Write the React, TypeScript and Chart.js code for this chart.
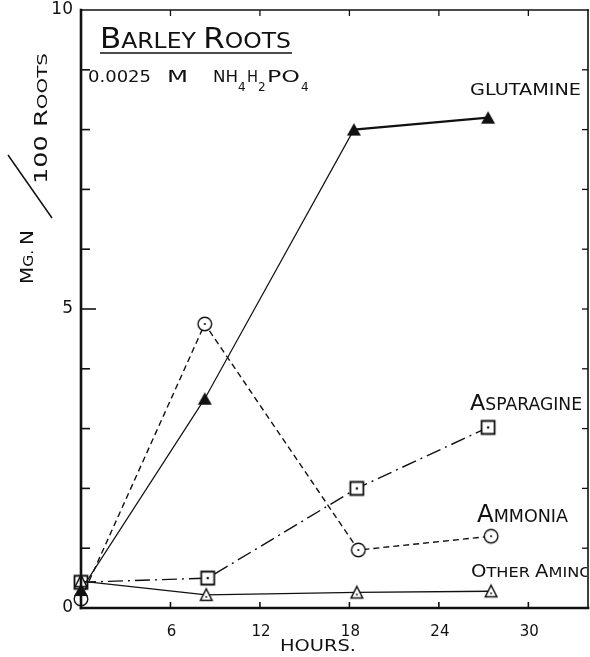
import { useEffect, useRef } from "react";
import { Chart, registerables } from "chart.js";

Chart.register(...registerables);

// Hours after transfer to the ammonium phosphate solution
const hourTicks = [6, 12, 18, 24, 30];
const yLabelTicks = [0, 5, 10];
const yMinorTicks = [1, 2, 3, 4, 5, 6, 7, 8, 9];

// mg N per 100 roots
const glutamineHours = [0, 8.3, 18.3, 27.3];
const glutamine = [0.3, 3.5, 8.0, 8.2];

const ammoniaHours = [0, 8.3, 18.6, 27.5];
const ammonia = [0.15, 4.75, 0.97, 1.2];

const asparagineHours = [0, 8.5, 18.5, 27.3];
const asparagine = [0.43, 0.5, 2.0, 3.02];

const otherAminoHours = [0, 8.4, 18.5, 27.5];
const otherAmino = [0.45, 0.22, 0.26, 0.28];

const INK = "#111";
const FONT = '"DejaVu Sans", "Liberation Sans", sans-serif';

type Part = [string, number];

function toPoints(hours: number[], values: number[]) {
  return hours.map((h, i) => ({ x: h, y: values[i] }));
}

function makeMarker(kind: "circle" | "square" | "triangle" | "filledTriangle") {
  const c = document.createElement("canvas");
  const s = 18;
  c.width = s;
  c.height = s;
  const g = c.getContext("2d")!;
  const m = s / 2;
  g.strokeStyle = INK;
  g.fillStyle = "#fff";
  g.lineWidth = 1.4;
  const dot = (x: number, y: number, r: number) => {
    g.beginPath();
    g.fillStyle = INK;
    g.arc(x, y, r, 0, Math.PI * 2);
    g.fill();
  };
  if (kind === "circle") {
    g.beginPath();
    g.arc(m, m, 6.8, 0, Math.PI * 2);
    g.fill();
    g.stroke();
    dot(m, m, 1.1);
  } else if (kind === "square") {
    g.beginPath();
    g.rect(2.5, 2.5, 13, 13);
    g.fill();
    g.lineWidth = 1.8;
    g.stroke();
    dot(m, m, 1.3);
  } else if (kind === "triangle") {
    g.beginPath();
    g.moveTo(m, 3);
    g.lineTo(m + 5.8, 14.5);
    g.lineTo(m - 5.8, 14.5);
    g.closePath();
    g.fill();
    g.lineWidth = 1.5;
    g.stroke();
    dot(m, 11, 0.9);
  } else {
    g.beginPath();
    g.moveTo(m, 2.5);
    g.lineTo(m + 7, 15);
    g.lineTo(m - 7, 15);
    g.closePath();
    g.fillStyle = INK;
    g.fill();
  }
  return c;
}

// Mixed-size capitals (lettering style), stretched to a given width
function drawCaps(
  ctx: CanvasRenderingContext2D,
  parts: Part[],
  x: number,
  y: number,
  width: number
) {
  let natural = 0;
  for (const [t, s] of parts) {
    ctx.font = `${s}px ${FONT}`;
    natural += ctx.measureText(t).width;
  }
  const sx = width / natural;
  ctx.save();
  ctx.translate(x, y);
  ctx.scale(sx, 1);
  let cx = 0;
  for (const [t, s] of parts) {
    ctx.font = `${s}px ${FONT}`;
    ctx.fillText(t, cx, 0);
    cx += ctx.measureText(t).width;
  }
  ctx.restore();
}

function line(ctx: CanvasRenderingContext2D, x1: number, y1: number, x2: number, y2: number, w: number) {
  ctx.beginPath();
  ctx.lineWidth = w;
  ctx.moveTo(x1, y1);
  ctx.lineTo(x2, y2);
  ctx.stroke();
}

const framePlugin = {
  id: "frameAndLettering",
  afterDraw(chart: any) {
    const { ctx, chartArea: a } = chart;
    const x = chart.scales.x;
    const y = chart.scales.y;
    ctx.save();
    ctx.strokeStyle = INK;
    ctx.fillStyle = INK;
    ctx.lineCap = "square";

    // box frame
    line(ctx, a.left, a.top, a.left, a.bottom, 2.6);
    line(ctx, a.left, a.bottom, a.right, a.bottom, 2.6);
    line(ctx, a.left, a.top, a.right, a.top, 1.6);
    line(ctx, a.right, a.top, a.right, a.bottom, 1.6);

    // inward ticks
    ctx.lineCap = "butt";
    for (const v of yMinorTicks) {
      const py = y.getPixelForValue(v);
      line(ctx, a.left, py, a.left + (v % 5 === 0 ? 15 : 9), py, 1.6);
      line(ctx, a.right, py, a.right - 6, py, 1.3);
    }
    for (const h of hourTicks) {
      const px = x.getPixelForValue(h);
      line(ctx, px, a.bottom, px, a.bottom - 6, 1.6);
      line(ctx, px, a.top, px, a.top + 6, 1.3);
    }

    // tick labels
    ctx.textBaseline = "middle";
    ctx.textAlign = "right";
    ctx.font = `17px ${FONT}`;
    for (const v of yLabelTicks) {
      ctx.fillText(String(v), a.left - 8, y.getPixelForValue(v));
    }
    ctx.textAlign = "center";
    ctx.textBaseline = "top";
    ctx.font = `15px ${FONT}`;
    for (const h of hourTicks) {
      ctx.fillText(String(h), x.getPixelForValue(h) + 1, a.bottom + 17);
    }

    ctx.textAlign = "left";
    ctx.textBaseline = "alphabetic";

    // x-axis title
    drawCaps(ctx, [["HOURS.", 16]], 280, 651, 76);

    // y-axis title: MG. N / 100 ROOTS
    ctx.save();
    ctx.translate(33, 284);
    ctx.rotate(-Math.PI / 2);
    drawCaps(ctx, [["M", 18], ["G. ", 14], ["N", 18]], 0, 0, 54);
    ctx.restore();
    ctx.save();
    ctx.translate(47, 184);
    ctx.rotate(-Math.PI / 2);
    drawCaps(ctx, [["100 R", 18], ["OOTS", 14]], 0, 0, 131);
    ctx.restore();
    line(ctx, 8, 155, 52, 218, 1.5);

    // title block
    drawCaps(ctx, [["B", 29], ["ARLEY ", 22], ["R", 29], ["OOTS", 22]], 100, 48, 191);
    line(ctx, 100, 53, 292, 53, 1.6);

    const sub = (t: string, px: number, py: number) => {
      ctx.font = `12px ${FONT}`;
      ctx.fillText(t, px, py);
    };
    drawCaps(ctx, [["0.0025", 16]], 88, 82, 63);
    drawCaps(ctx, [["M", 16]], 167, 82, 21);
    drawCaps(ctx, [["NH", 16]], 213, 82, 25);
    sub("4", 238, 91);
    drawCaps(ctx, [["H", 16]], 247, 82, 11);
    sub("2", 258, 91);
    drawCaps(ctx, [["PO", 16]], 267, 82, 33);
    sub("4", 301, 91);

    // series labels
    drawCaps(ctx, [["GLUTAMINE", 16]], 470, 95, 111);
    drawCaps(ctx, [["A", 22], ["SPARAGINE", 17]], 470, 410, 112);
    drawCaps(ctx, [["A", 25], ["MMONIA", 18]], 477, 522, 91);
    ctx.save();
    ctx.beginPath();
    ctx.rect(0, 0, a.right - 1, 657);
    ctx.clip();
    drawCaps(ctx, [["O", 17], ["THER ", 14], ["A", 17], ["MINO", 14]], 471, 577, 121);
    ctx.restore();

    ctx.restore();
  },
};

export default function App() {
  const canvasRef = useRef<HTMLCanvasElement | null>(null);

  useEffect(() => {
    const canvas = canvasRef.current;
    if (!canvas) return;

    const base = {
      borderColor: INK,
      backgroundColor: INK,
      fill: false,
      tension: 0,
      clip: false,
      pointRadius: 7,
      pointBorderWidth: 0,
    };

    const chart = new Chart(canvas, {
      type: "line",
      data: {
        datasets: [
          {
            ...base,
            label: "Other Amino",
            data: toPoints(otherAminoHours, otherAmino),
            borderWidth: 1.3,
            pointStyle: makeMarker("triangle"),
          },
          {
            ...base,
            label: "Glutamine",
            data: toPoints(glutamineHours, glutamine),
            borderWidth: 1.2,
            segment: {
              borderWidth: (c: any) => (c.p0DataIndex === 2 ? 2.2 : 1.2),
            },
            pointStyle: makeMarker("filledTriangle"),
          },
          {
            ...base,
            label: "Ammonia",
            data: toPoints(ammoniaHours, ammonia),
            borderWidth: 1.4,
            borderDash: [6, 4],
            pointStyle: makeMarker("circle"),
          },
          {
            ...base,
            label: "Asparagine",
            data: toPoints(asparagineHours, asparagine),
            borderWidth: 1.4,
            borderDash: [15, 5, 2, 5],
            pointStyle: makeMarker("square"),
          },
        ] as any,
      },
      options: {
        responsive: false,
        animation: false,
        devicePixelRatio: 1,
        events: [],
        layout: { autoPadding: false, padding: { left: 81, right: 2, top: 10, bottom: 49 } },
        scales: {
          x: { type: "linear", min: 0, max: 34, display: false },
          y: { type: "linear", min: 0, max: 10, display: false },
        },
        plugins: {
          legend: { display: false },
          tooltip: { enabled: false },
        },
      } as any,
      plugins: [framePlugin],
    });

    return () => chart.destroy();
  }, []);

  return (
    <div style={{ position: "absolute", left: 0, top: 0, width: 590, height: 657, background: "#fff" }}>
      <canvas ref={canvasRef} width={590} height={657} style={{ display: "block" }} />
    </div>
  );
}
